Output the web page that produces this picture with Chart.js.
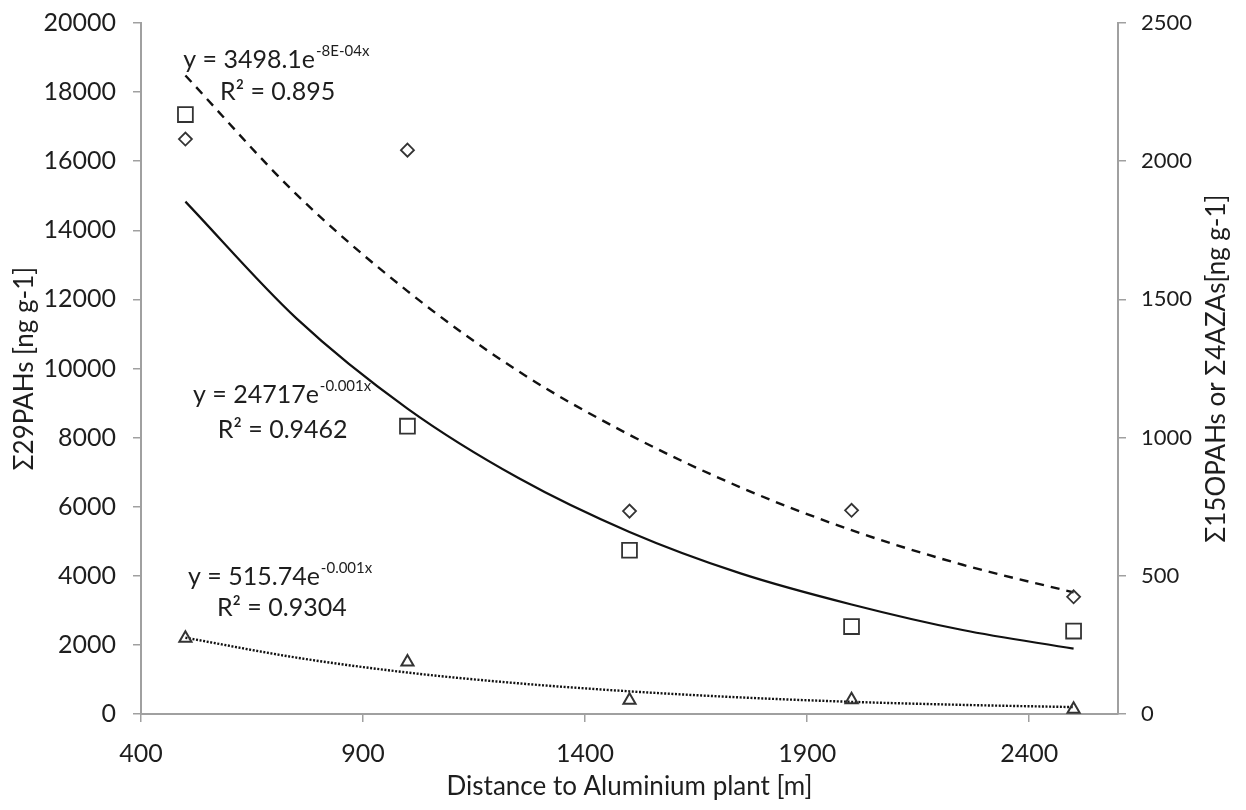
<!DOCTYPE html>
<html>
<head>
<meta charset="utf-8">
<script src="https://cdn.jsdelivr.net/npm/chart.js@4.4.1/dist/chart.umd.min.js"></script>
<style>
  html, body { margin: 0; padding: 0; background: #fff; }
  #wrap { width: 1246px; height: 810px; }
</style>
</head>
<body>
<div id="wrap"><canvas id="chart" width="1246" height="810"></canvas></div>
<script>
// Sampling sites (distance from the smelter, m)
const distances = [500, 1000, 1500, 2000, 2500];
// Σ29PAHs, left axis (ng g-1)
const pah29 = [17350, 8330, 4740, 2530, 2400];
// Σ15OPAHs, right axis (ng g-1)
const opah15 = [2080, 2040, 734, 737, 424];
// Σ4AZAs, right axis (ng g-1)
const aza4 = [274, 188, 50, 52, 17];

// Exponential trend curves, sampled along the distance range
const trendX = [500, 750, 1000, 1250, 1500, 1750, 2000, 2250, 2500];
const trendPah29 = [14830, 11450, 8840, 6830, 5270, 4070, 3170, 2430, 1890];
const trendOpah15 = [2310, 1880, 1530, 1240, 1010, 820, 665, 540, 440];
const trendAza4 = [276, 204, 150, 111, 82, 60, 44, 33, 25];

// Axis ticks
const xTicks = [400, 900, 1400, 1900, 2400];
const leftTicks = [0, 2000, 4000, 6000, 8000, 10000, 12000, 14000, 16000, 18000, 20000];
const rightTicks = [0, 500, 1000, 1500, 2000, 2500];

// Trend equations, anchored in x / left-axis units
const equations = [
  { x: 495, y: 18930, text: 'y = 3498.1e', sup: '-8E-04x' },
  { x: 578, y: 18000, text: 'R² = 0.895' },
  { x: 517, y: 9230, text: 'y = 24717e', sup: '-0.001x' },
  { x: 573, y: 8220, text: 'R² = 0.9462' },
  { x: 506, y: 3960, text: 'y = 515.74e', sup: '-0.001x' },
  { x: 571, y: 3070, text: 'R² = 0.9304' }
];

const rightTitle = 'Σ15OPAHs or Σ4AZAs[ng g-1]';

const FONT = 'Lato, "Open Sans", sans-serif';
const textColor = '#1e1e1e';
const axisColor = '#a0a0a0';
const markColor = '#333333';
const lineColor = '#111111';

const toPoints = (xs, ys) => xs.map((x, i) => ({ x, y: ys[i] }));
const setTicks = list => scale => { scale.ticks = list.map(v => ({ value: v })); };
const plain = v => String(v);

const labelPlugin = {
  id: 'equationLabels',
  afterDatasetsDraw(chart) {
    const { ctx, scales, chartArea } = chart;
    ctx.save();
    ctx.fillStyle = textColor;
    ctx.textBaseline = 'middle';
    ctx.textAlign = 'left';
    equations.forEach(eq => {
      const px = scales.x.getPixelForValue(eq.x);
      const py = scales.y.getPixelForValue(eq.y);
      ctx.font = '25px ' + FONT;
      ctx.fillText(eq.text, px, py);
      if (eq.sup) {
        const w = ctx.measureText(eq.text).width;
        ctx.font = '15px ' + FONT;
        ctx.fillText(eq.sup, px + w + 1, py - 9);
      }
    });

    // right-hand axis title, read bottom to top like the left one
    ctx.font = '26px ' + FONT;
    ctx.textAlign = 'center';
    ctx.translate(1217, (chartArea.top + chartArea.bottom) / 2);
    ctx.rotate(-Math.PI / 2);
    ctx.fillText(rightTitle, 0, 0);
    ctx.restore();
  }
};

const markerSet = (data, axis, style, radius, width) => ({
  type: 'scatter',
  data,
  yAxisID: axis,
  showLine: false,
  pointStyle: style,
  pointRadius: radius,
  pointHoverRadius: radius,
  pointBorderWidth: width,
  pointBorderColor: markColor,
  pointBackgroundColor: 'rgba(0,0,0,0)'
});

const trendSet = (data, axis, dash, width) => ({
  type: 'line',
  data,
  yAxisID: axis,
  borderColor: lineColor,
  borderWidth: width,
  borderDash: dash,
  pointRadius: 0,
  fill: false,
  cubicInterpolationMode: 'monotone'
});

const tickGrid = { drawOnChartArea: false, drawTicks: true, tickLength: 8, color: axisColor, lineWidth: 1.5 };
const axisBorder = { display: true, color: axisColor, width: 2 };

new Chart(document.getElementById('chart').getContext('2d'), {
  data: {
    datasets: [
      markerSet(toPoints(distances, pah29), 'y', 'rect', 10.5, 1.8),
      markerSet(toPoints(distances, opah15), 'y2', 'rectRot', 6.5, 1.8),
      markerSet(toPoints(distances, aza4), 'y2', 'triangle', 7, 2),
      trendSet(toPoints(trendX, trendPah29), 'y', [], 2.2),
      trendSet(toPoints(trendX, trendOpah15), 'y2', [9, 7], 2.4),
      trendSet(toPoints(trendX, trendAza4), 'y2', [2, 1.6], 2.4)
    ]
  },
  options: {
    responsive: false,
    animation: false,
    layout: { padding: { top: 23, left: 0, right: 0, bottom: 0 } },
    plugins: {
      legend: { display: false },
      tooltip: { enabled: false }
    },
    scales: {
      x: {
        type: 'linear',
        position: 'bottom',
        min: 400,
        max: 2600,
        afterBuildTicks: setTicks(xTicks),
        afterFit: scale => { scale.height = 96; },
        border: axisBorder,
        grid: tickGrid,
        ticks: { color: textColor, font: { family: FONT, size: 25 }, padding: 17, maxRotation: 0, callback: plain },
        title: {
          display: true,
          text: 'Distance to Aluminium plant [m]',
          color: textColor,
          font: { family: FONT, size: 26 },
          padding: { top: 0, bottom: 8 }
        }
      },
      y: {
        type: 'linear',
        position: 'left',
        min: 0,
        max: 20000,
        afterBuildTicks: setTicks(leftTicks),
        afterFit: scale => { scale.width = 141; scale.paddingTop = 0; scale.paddingBottom = 0; },
        border: axisBorder,
        grid: tickGrid,
        ticks: { color: textColor, font: { family: FONT, size: 25 }, padding: 17, callback: plain },
        title: {
          display: true,
          text: 'Σ29PAHs [ng g-1]',
          color: textColor,
          font: { family: FONT, size: 26 },
          padding: { top: 9, bottom: 0 }
        }
      },
      y2: {
        type: 'linear',
        position: 'right',
        min: 0,
        max: 2500,
        afterBuildTicks: setTicks(rightTicks),
        afterFit: scale => { scale.width = 128; scale.paddingTop = 0; scale.paddingBottom = 0; },
        border: axisBorder,
        grid: tickGrid,
        ticks: { color: textColor, font: { family: FONT, size: 22 }, padding: 15, callback: plain }
      }
    }
  },
  plugins: [labelPlugin]
});
</script>
</body>
</html>
